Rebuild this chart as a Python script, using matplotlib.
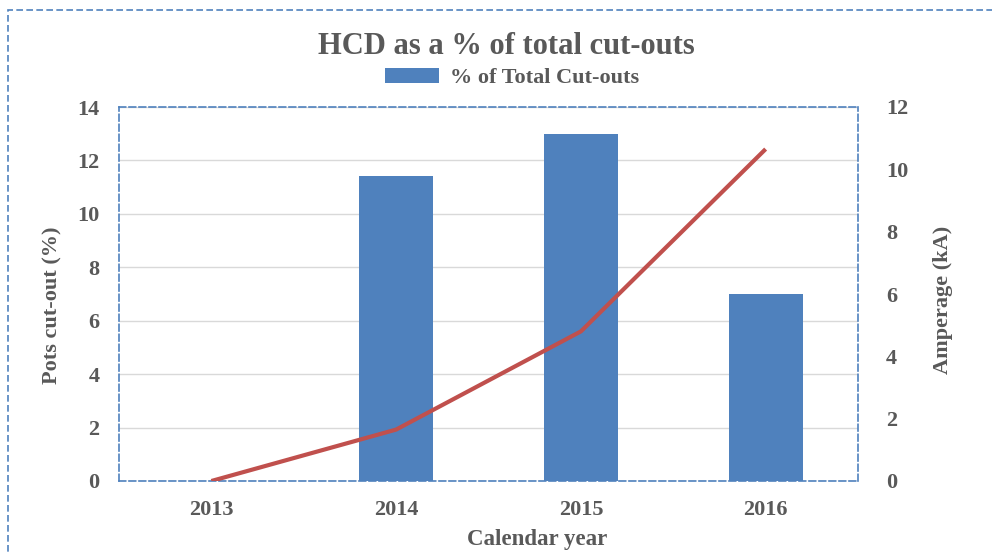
import matplotlib
matplotlib.use("Agg")
import matplotlib.pyplot as plt
from matplotlib.patches import Rectangle
import numpy as np

years = ["2013", "2014", "2015", "2016"]
pct_cutouts = [0.0, 11.4, 13.0, 7.0]
amperage = [0.0, 1.65, 4.8, 10.65]

W, H = 992, 552
fig = plt.figure(figsize=(W / 100, H / 100), dpi=100)
plt.rcParams['font.family'] = ['Liberation Serif', 'DejaVu Serif']
gray = '#595959'
blue = '#4F81BD'
red = '#C0504D'
dash = '#4F81BD'

left, right, top, bottom = 119, 858, 107, 481
ax = fig.add_axes([left / W, 1 - bottom / H, (right - left) / W, (bottom - top) / H])
x = np.arange(len(years))
ax.bar(x, pct_cutouts, width=0.4, color=blue, zorder=2, label='% of Total Cut-outs')
ax.set_xlim(-0.5, len(years) - 0.5)
ax.set_ylim(0, 14)
ax.set_yticks(range(0, 15, 2))
ax.set_xticks(x)
ax.set_xticklabels(years)
ax.grid(axis='y', color='#D9D9D9', linewidth=1, zorder=0)
ax.set_axisbelow(True)
for s in ax.spines.values():
    s.set_color(dash)
    s.set_linestyle((0, (4, 2)))
    s.set_linewidth(1.2)
ax.tick_params(length=0, labelsize=16, colors=gray, pad=14)
for t in ax.get_xticklabels() + ax.get_yticklabels():
    t.set_fontweight('bold')

ax2 = ax.twinx()
ax2.plot(x, amperage, color=red, linewidth=3, zorder=3, solid_capstyle='butt')
ax2.set_ylim(0, 12)
ax2.set_yticks(range(0, 13, 2))
ax2.tick_params(length=0, labelsize=16, colors=gray, pad=20)
for t in ax2.get_yticklabels():
    t.set_fontweight('bold')
for s in ax2.spines.values():
    s.set_visible(False)

fig.text(52 / W, 1 - 305 / H, 'Pots cut-out (%)', rotation=90, ha='center', va='center',
         fontsize=16, fontweight='bold', color=gray)
fig.text(943 / W, 1 - 300 / H, 'Amperage (kA)', rotation=90, ha='center', va='center',
         fontsize=16, fontweight='bold', color=gray)
fig.text(537 / W, 1 - 539 / H, 'Calendar year', ha='center', va='center',
         fontsize=16.5, fontweight='bold', color=gray)

fig.text(506 / W, 1 - 46 / H, 'HCD as a % of total cut-outs', ha='center', va='center',
         fontsize=22, fontweight='bold', color=gray)
leg = fig.legend(handles=[ax.patches[0]], labels=['% of Total Cut-outs'], loc='center',
                 bbox_to_anchor=(512 / W, 1 - 78 / H), frameon=False, fontsize=16,
                 handlelength=2.4, handleheight=0.7, handletextpad=0.5)
for t in leg.get_texts():
    t.set_fontweight('bold')
    t.set_color(gray)

border = Rectangle((8 / W, -0.1), 1.2, 1 - 10 / H + 0.1, transform=fig.transFigure,
                   fill=False, edgecolor=dash, linestyle=(0, (4, 2)), linewidth=1.2,
                   clip_on=False)
fig.patches.append(border)

fig.savefig('out.png', dpi=100)
